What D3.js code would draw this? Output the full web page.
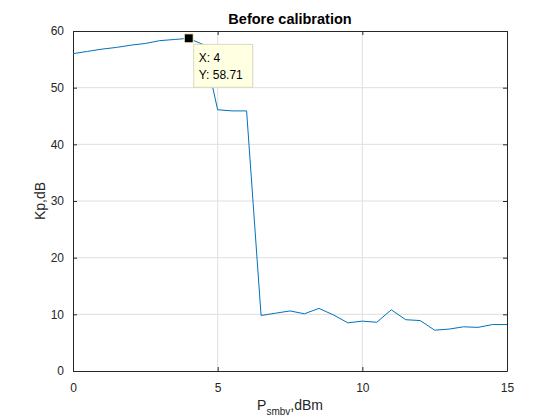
<!DOCTYPE html>
<html>
<head>
<meta charset="utf-8">
<script src="https://cdn.jsdelivr.net/npm/d3@7/dist/d3.min.js"></script>
<style>
  body { margin: 0; background: #fff; }
  svg { display: block; font-family: "Liberation Sans", Arial, sans-serif; }
</style>
</head>
<body>
<svg id="chart" width="560" height="420"></svg>
<script>
// Kp vs P_smbv, before calibration

const xValues = [0, 0.5, 1, 1.5, 2, 2.5, 3, 3.5, 4, 4.5, 5, 5.5, 6, 6.5, 7, 7.5, 8, 8.5, 9, 9.5,
  10, 10.5, 11, 11.5, 12, 12.5, 13, 13.5, 14, 14.5, 15];
const kpValues = [56.0, 56.4, 56.8, 57.1, 57.5, 57.8, 58.3, 58.5, 58.71, 57.6, 46.1, 45.9, 45.9, 9.8, 10.2, 10.6, 10.1, 11.05, 9.9, 8.5,
  8.8, 8.6, 10.8, 9.05, 8.9, 7.2, 7.4, 7.8, 7.7, 8.2, 8.2];
const xTicks = [0, 5, 10, 15];
const yTicks = [0, 10, 20, 30, 40, 50, 60];
const tipPoint = { x: 4, y: 58.71 };

const m = { left: 73, right: 507, top: 31, bottom: 371 };

const svg = d3.select("#chart");
const x = d3.scaleLinear().domain([0, 15]).range([m.left, m.right]);
const y = d3.scaleLinear().domain([0, 60]).range([m.bottom, m.top]);

// grid
svg.append("g")
  .selectAll("line")
  .data(xTicks.slice(1, -1))
  .enter().append("line")
  .attr("x1", d => x(d)).attr("x2", d => x(d))
  .attr("y1", m.top).attr("y2", m.bottom)
  .attr("stroke", "#dfdfdf").attr("stroke-width", 1);
svg.append("g")
  .selectAll("line")
  .data(yTicks.slice(1, -1))
  .enter().append("line")
  .attr("x1", m.left).attr("x2", m.right)
  .attr("y1", d => y(d)).attr("y2", d => y(d))
  .attr("stroke", "#dfdfdf").attr("stroke-width", 1);

// axes (ticks inside, MATLAB style)
const axColor = "#262626";
const bottomAxis = svg.append("g")
  .attr("transform", `translate(0,${m.bottom})`)
  .call(d3.axisBottom(x).tickValues(xTicks).tickSizeInner(-4).tickSizeOuter(0).tickPadding(12));
const topAxis = svg.append("g")
  .attr("transform", `translate(0,${m.top})`)
  .call(d3.axisTop(x).tickValues(xTicks).tickSizeInner(-4).tickSizeOuter(0).tickFormat(""));
const leftAxis = svg.append("g")
  .attr("transform", `translate(${m.left},0)`)
  .call(d3.axisLeft(y).tickValues(yTicks).tickSizeInner(-4).tickSizeOuter(0).tickPadding(9));
const rightAxis = svg.append("g")
  .attr("transform", `translate(${m.right},0)`)
  .call(d3.axisRight(y).tickValues(yTicks).tickSizeInner(-4).tickSizeOuter(0).tickFormat(""));

[bottomAxis, topAxis, leftAxis, rightAxis].forEach(g => {
  g.select(".domain").attr("stroke", axColor).attr("stroke-width", 1);
  g.selectAll(".tick line").attr("stroke", axColor);
  g.selectAll("text").attr("fill", axColor).style("font-size", "12px")
    .style("font-family", "'Liberation Sans', Arial, sans-serif");
});

// data line
const line = d3.line().x((d, i) => x(xValues[i])).y(d => y(d));
svg.append("path")
  .datum(kpValues)
  .attr("d", line)
  .attr("fill", "none")
  .attr("stroke", "#0072BD")
  .attr("stroke-width", 1);

// datatip
const tx = x(tipPoint.x), ty = y(tipPoint.y);
svg.append("rect")
  .attr("x", tx - 4.5).attr("y", ty - 4.5)
  .attr("width", 9).attr("height", 9)
  .attr("fill", "#000").attr("stroke", "#fffbd0").attr("stroke-width", 1);
const tip = svg.append("g").attr("transform", `translate(${tx + 5},${ty + 6})`);
tip.append("rect")
  .attr("width", 59).attr("height", 43)
  .attr("fill", "#ffffe1").attr("stroke", "#d8d8c0").attr("stroke-width", 1);
tip.append("text").attr("x", 5).attr("y", 18)
  .attr("fill", "#000").style("font-size", "12px").text(`X: ${tipPoint.x}`);
tip.append("text").attr("x", 5).attr("y", 35)
  .attr("fill", "#000").style("font-size", "12px").text(`Y: ${tipPoint.y}`);

// title and labels
svg.append("text")
  .attr("x", (m.left + m.right) / 2).attr("y", 24)
  .attr("text-anchor", "middle")
  .attr("fill", "#000")
  .style("font-size", "14.5px").style("font-weight", "bold")
  .text("Before calibration");

svg.append("text")
  .attr("transform", `translate(45,${(m.top + m.bottom) / 2}) rotate(-90)`)
  .attr("text-anchor", "middle")
  .attr("fill", axColor)
  .style("font-size", "14px")
  .text("Kp,dB");

const xl = svg.append("text")
  .attr("x", (m.left + m.right) / 2).attr("y", 410)
  .attr("text-anchor", "middle")
  .attr("fill", axColor)
  .style("font-size", "14px");
xl.append("tspan").text("P");
xl.append("tspan").attr("dy", 5).style("font-size", "10px").text("smbv");
xl.append("tspan").attr("dy", -5).text(",dBm");
</script>
</body>
</html>
